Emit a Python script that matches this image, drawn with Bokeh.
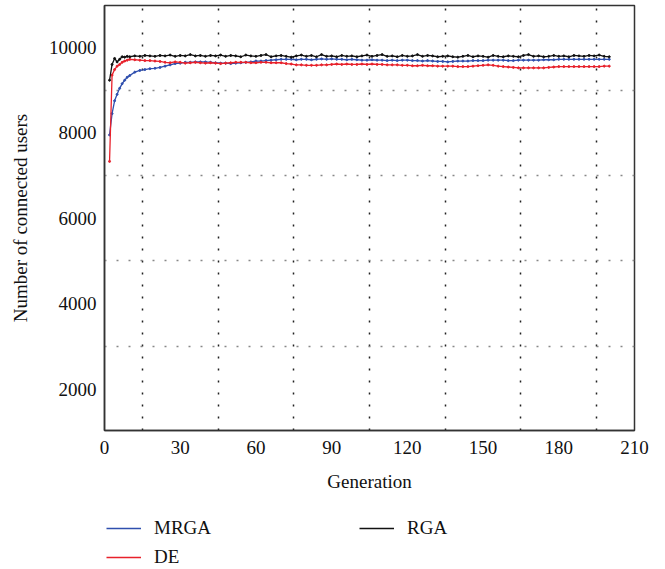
from bokeh.plotting import figure
from bokeh.layouts import column
from bokeh.models import FixedTicker, Legend, LegendItem, Range1d, ColumnDataSource
from bokeh.embed import file_html
from bokeh.resources import INLINE

generations = list(range(2, 11)) + list(range(12, 201, 2))

rga = [9230, 9600, 9740, 9660, 9720, 9780, 9770, 9790, 9780,
       9800, 9790, 9810, 9800, 9790, 9810, 9800, 9820, 9790, 9810, 9800, 9830, 9800, 9810, 9790,
       9810, 9800, 9820, 9790, 9810, 9800, 9780, 9820, 9800, 9790, 9810, 9830, 9780, 9800, 9810,
       9790, 9770, 9800, 9820, 9790, 9810, 9780, 9830, 9790, 9800, 9780, 9810, 9790, 9800, 9780,
       9800, 9820, 9790, 9810, 9830, 9790, 9800, 9780, 9810, 9790, 9800, 9830, 9790, 9810, 9800,
       9780, 9790, 9800, 9780, 9770, 9790, 9810, 9780, 9800, 9790, 9770, 9810, 9790, 9780, 9800,
       9790, 9780, 9810, 9830, 9790, 9800, 9780, 9790, 9810, 9790, 9800, 9780, 9810, 9800, 9790,
       9810, 9800, 9820, 9790, 9780]

mrga = [7950, 8450, 8750, 8900, 9040, 9150, 9230, 9300, 9340,
        9420, 9460, 9480, 9500, 9510, 9530, 9560, 9590, 9620, 9630, 9650, 9650, 9660, 9660, 9660,
        9650, 9640, 9630, 9630, 9620, 9630, 9640, 9650, 9660, 9680, 9680, 9690, 9700, 9710, 9720,
        9720, 9720, 9710, 9720, 9720, 9710, 9720, 9730, 9720, 9730, 9720, 9720, 9710, 9720, 9710,
        9700, 9700, 9710, 9700, 9700, 9690, 9700, 9690, 9700, 9700, 9690, 9690, 9680, 9690, 9680,
        9670, 9670, 9660, 9670, 9680, 9680, 9680, 9690, 9690, 9690, 9700, 9700, 9700, 9700, 9690,
        9690, 9700, 9700, 9700, 9700, 9700, 9710, 9710, 9710, 9720, 9720, 9720, 9720, 9720, 9720,
        9720, 9720, 9720, 9720, 9720]

de = [7330, 9350, 9480, 9560, 9600, 9650, 9680, 9700, 9720,
      9710, 9700, 9690, 9690, 9680, 9670, 9650, 9640, 9660, 9650, 9630, 9640, 9650, 9640, 9630,
      9640, 9630, 9620, 9630, 9640, 9650, 9650, 9650, 9640, 9640, 9650, 9650, 9640, 9640, 9640,
      9620, 9610, 9590, 9590, 9580, 9580, 9580, 9590, 9590, 9600, 9610, 9600, 9610, 9600, 9600,
      9610, 9600, 9610, 9600, 9600, 9590, 9590, 9590, 9580, 9580, 9570, 9570, 9580, 9570, 9570,
      9560, 9560, 9560, 9560, 9550, 9550, 9550, 9560, 9570, 9580, 9590, 9580, 9560, 9550, 9540,
      9530, 9520, 9520, 9520, 9520, 9520, 9520, 9530, 9540, 9550, 9550, 9550, 9550, 9550, 9550,
      9550, 9550, 9550, 9560, 9560]

x_ticks = [0, 30, 60, 90, 120, 150, 180, 210]
x_grid = [15, 45, 75, 105, 135, 165, 195]
y_ticks = [2000, 4000, 6000, 8000, 10000]
y_grid = [3000, 5000, 7000, 9000]

series_names = ["MRGA", "DE", "RGA"]
series_colors = ["#2f4fae", "#e8212b", "#111111"]

source = ColumnDataSource(data=dict(generation=generations, MRGA=mrga, DE=de, RGA=rga))

FONT = "Liberation Serif"

p = figure(width=665, height=500, output_backend="svg", toolbar_location=None,
           x_range=Range1d(0, 210), y_range=Range1d(1030, 10980),
           min_border_left=104, min_border_right=31, min_border_top=5, min_border_bottom=70,
           x_axis_label="Generation", y_axis_label="Number of connected users")

p.outline_line_color = "#333333"
p.outline_line_width = 1.5
p.background_fill_color = "white"
p.border_fill_color = "white"

for ax in (p.xaxis[0], p.yaxis[0]):
    ax.axis_line_color = "#333333"
    ax.axis_line_width = 1.5
    ax.major_tick_in = 0
    ax.major_tick_out = 0
    ax.minor_tick_in = 0
    ax.minor_tick_out = 0
    ax.major_label_text_font = FONT
    ax.major_label_text_font_size = "19px"
    ax.major_label_text_color = "#111111"
    ax.axis_label_text_font = FONT
    ax.axis_label_text_font_size = "19px"
    ax.axis_label_text_font_style = "normal"
    ax.axis_label_text_color = "#111111"

p.xaxis[0].ticker = FixedTicker(ticks=x_ticks)
p.yaxis[0].ticker = FixedTicker(ticks=y_ticks)
p.xaxis[0].major_label_standoff = 10
p.xaxis[0].axis_label_standoff = 14
p.yaxis[0].major_label_standoff = 8
p.yaxis[0].axis_label_standoff = 15

p.xgrid[0].ticker = FixedTicker(ticks=x_grid)
p.ygrid[0].ticker = FixedTicker(ticks=y_grid)
p.xgrid[0].grid_line_color = "#222222"
p.xgrid[0].grid_line_dash = "2 10"
p.xgrid[0].grid_line_width = 1.5
p.ygrid[0].grid_line_color = "#888888"
p.ygrid[0].grid_line_dash = "2 10"
p.ygrid[0].grid_line_width = 1.5

for name, col in zip(series_names, series_colors):
    p.line("generation", name, source=source, line_color=col, line_width=1.3)
    p.scatter("generation", name, source=source, size=2, marker="circle",
              fill_color=col, line_color=col)

# legend strip below the chart; its renderers share the data source but lie outside its view
lg = figure(width=665, height=69, output_backend="svg", toolbar_location=None,
            x_range=Range1d(-2, -1), y_range=Range1d(-2, -1),
            x_axis_type=None, y_axis_type=None, min_border=0,
            outline_line_color=None)
lg.xgrid.visible = False
lg.ygrid.visible = False
items = []
for name, col in zip(series_names, series_colors):
    ln = lg.line("generation", name, source=source, line_color=col, line_width=1.3)
    items.append(LegendItem(label=name, renderers=[ln]))

legend = Legend(items=items, orientation="vertical", nrows=2, location=(2, 1),
                glyph_width=35, glyph_height=20, label_height=20, label_standoff=13,
                label_width=198, spacing=7, padding=0, margin=0,
                label_text_font=FONT, label_text_font_size="19px", label_text_color="#111111",
                border_line_color=None, background_fill_alpha=0)
lg.add_layout(legend, "center")

layout = column(p, lg, spacing=0)
open("out.html", "w").write(file_html(layout, INLINE))
